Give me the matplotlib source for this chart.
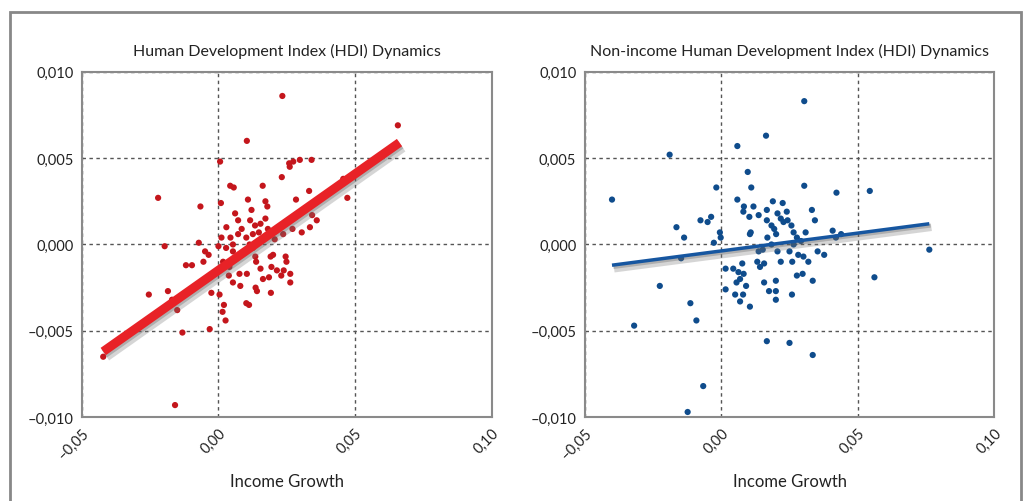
import numpy as np
import matplotlib.pyplot as plt
import matplotlib.patheffects as pe
from matplotlib.patches import Rectangle

# HDI dynamics vs income growth
hdi_x = [0.0234, 0.0657, 0.0104, 0.0006, 0.0259, 0.0274, 0.0298, 0.0341, 0.0261,
         0.0232, 0.0457, 0.0472, -0.0221, -0.0066, 0.0043, 0.0056, 0.0162, 0.0009,
         0.0108, 0.0284, 0.0332, 0.0172, 0.0179, 0.0121, 0.0061, 0.0343, 0.0360,
         0.0335, 0.0305, 0.0271, 0.0029, -0.0072, -0.0197, -0.0049, -0.0036, 0.0000,
         0.0028, 0.0053, -0.0119, -0.0097, -0.0055, 0.0017, 0.0040,
         0.0072, 0.0085, 0.0116, 0.0134, 0.0154, 0.0172, 0.0181, 0.0148, 0.0126,
         0.0102, 0.0044, 0.0072, 0.0175, 0.0206, 0.0237,
         0.0038, 0.0053, 0.0080, 0.0104, 0.0077, 0.0135, 0.0138, 0.0154, 0.0163,
         0.0136, 0.0141, 0.0191, 0.0200, 0.0194, 0.0214, 0.0185, 0.0192, 0.0230,
         0.0246, 0.0249, 0.0263, 0.0263, 0.0239, 0.0114, 0.0138, 0.0163, 0.0126,
         0.0102, 0.0011, 0.0053,
         0.0102, 0.0112, -0.0026, 0.0004, 0.0020, 0.0015, 0.0026, -0.0032,
         -0.0255, -0.0185, -0.0170, -0.0151, -0.0132, -0.0422, -0.0159]
hdi_y = [0.0086, 0.0069, 0.0060, 0.0048, 0.0047, 0.0048, 0.0049, 0.0049, 0.0045,
         0.0039, 0.0038, 0.0027, 0.0027, 0.0022, 0.0034, 0.0033, 0.0034, 0.0024,
         0.0026, 0.0026, 0.0031, 0.0025, 0.0022, 0.0020, 0.0018, 0.0017, 0.0014,
         0.0010, 0.0007, 0.0009, 0.0010, 0.0001, -0.0001, -0.0004, -0.0006, -0.0001,
         -0.0002, 0.0000, -0.0012, -0.0012, -0.0010, -0.0010, -0.0013,
         0.0014, 0.0009, 0.0014, 0.0011, 0.0012, 0.0015, 0.0009, 0.0007, 0.0006,
         0.0004, 0.0004, 0.0006, 0.0004, 0.0003, 0.0006,
         -0.0018, -0.0022, -0.0024, -0.0017, -0.0017, -0.0007, -0.0010, -0.0014, -0.0020,
         -0.0025, -0.0027, -0.0007, -0.0006, -0.0013, -0.0015, -0.0019, -0.0028, -0.0018,
         -0.0007, -0.0010, -0.0017, -0.0022, -0.0015, -0.0000, 0.0001, 0.0003, -0.0002,
         -0.0004, 0.0004, -0.0004,
         -0.0034, -0.0035, -0.0028, -0.0029, -0.0035, -0.0039, -0.0044, -0.0049,
         -0.0029, -0.0027, -0.0032, -0.0038, -0.0051, -0.0065, -0.0093]

# non-income HDI dynamics vs income growth
nonincome_x = [0.0304, 0.0164, 0.0059, -0.0189, 0.0097, 0.0304, -0.0018, 0.0110,
               0.0544, 0.0422, -0.0400, 0.0059, 0.0083, 0.0118, 0.0081, 0.0103, 0.0137,
               0.0189, 0.0225, 0.0167, 0.0206, 0.0240, 0.0332, 0.0343,
               -0.0037, -0.0076, -0.0050, -0.0164, -0.0136, -0.0005, -0.0002, -0.0027,
               0.0167, 0.0184, 0.0194, 0.0201, 0.0218, 0.0228, 0.0243, 0.0257, 0.0265,
               0.0277, 0.0169, 0.0184, 0.0152, 0.0137, 0.0132, 0.0142, 0.0157, 0.0206,
               0.0218, 0.0250, 0.0260, 0.0282, 0.0301, 0.0319, 0.0265, 0.0292, 0.0309,
               0.0353, 0.0377, 0.0408, 0.0420, 0.0439, 0.0108, 0.0105,
               0.0077, 0.0044, 0.0016, 0.0063, 0.0082, 0.0069, 0.0056, 0.0091, 0.0016,
               0.0051, 0.0069, 0.0080, 0.0105,
               0.0157, 0.0175, 0.0200, 0.0200, 0.0200, 0.0259, 0.0277, 0.0298, 0.0335,
               -0.0225, -0.0113, -0.0319, -0.0091, 0.0167, 0.0250, 0.0335, -0.0066,
               -0.0123, 0.0561, 0.0762, -0.0147]
nonincome_y = [0.0083, 0.0063, 0.0057, 0.0052, 0.0042, 0.0034, 0.0033, 0.0033,
               0.0031, 0.0030, 0.0026, 0.0026, 0.0022, 0.0022, 0.0019, 0.0016, 0.0017,
               0.0025, 0.0024, 0.0020, 0.0018, 0.0019, 0.0020, 0.0014,
               0.0016, 0.0014, 0.0013, 0.0010, 0.0004, 0.0007, 0.0004, 0.0001,
               0.0014, 0.0011, 0.0009, 0.0006, 0.0015, 0.0013, 0.0014, 0.0011, 0.0007,
               0.0004, 0.0004, -0.0000, -0.0003, -0.0004, -0.0010, -0.0013, -0.0011, -0.0004,
               -0.0010, -0.0004, -0.0010, -0.0006, -0.0007, -0.0010, -0.0000, 0.0002, 0.0007,
               -0.0004, -0.0006, 0.0008, 0.0004, 0.0006, 0.0007, 0.0006,
               -0.0011, -0.0014, -0.0014, -0.0016, -0.0017, -0.0020, -0.0022, -0.0024, -0.0026,
               -0.0029, -0.0033, -0.0029, -0.0036,
               -0.0022, -0.0027, -0.0021, -0.0027, -0.0032, -0.0029, -0.0018, -0.0017, -0.0021,
               -0.0024, -0.0034, -0.0047, -0.0044, -0.0056, -0.0057, -0.0064, -0.0082,
               -0.0097, -0.0019, -0.0003, -0.0008]

# fitted regression lines (end points)
hdi_fit_x = [-0.0422, 0.0663]
hdi_fit_y = [-0.0062, 0.0059]
nonincome_fit_x = [-0.0400, 0.0762]
nonincome_fit_y = [-0.0012, 0.0012]

xticks = [-0.05, 0.0, 0.05, 0.10]
xtick_labels = ['\u20130,05', '0,00', '0,05', '0,10']
yticks = [-0.010, -0.005, 0.0, 0.005, 0.010]
ytick_labels = ['\u20130,010', '\u20130,005', '0,000', '0,005', '0,010']

plt.rcParams['font.family'] = ['Lato', 'DejaVu Sans']

fig = plt.figure(figsize=(10.24, 5.02), dpi=100)
fig.patches.append(Rectangle((0.010, -0.01), 0.987, 0.984, transform=fig.transFigure,
                             fill=False, edgecolor='#888888', linewidth=2))

panels = [
    (0.080, 'Human Development Index (HDI) Dynamics', hdi_x, hdi_y,
     hdi_fit_x, hdi_fit_y, '#c4161c', '#e82227', 6.5),
    (0.571, 'Non-income Human Development Index (HDI) Dynamics', nonincome_x, nonincome_y,
     nonincome_fit_x, nonincome_fit_y, '#0f4c8c', '#1656a0', 2.5),
]

for left, title, x, y, fx, fy, dot_color, line_color, lw in panels:
    ax = fig.add_axes([left, 0.167, 0.400, 0.688])
    ax.scatter(x, y, s=20, color=dot_color, edgecolor='none', zorder=3)
    shadow = [pe.SimpleLineShadow(offset=(1.5, -2.5), shadow_color='#777777', alpha=0.3,
                                  linewidth=lw + 3),
              pe.SimpleLineShadow(offset=(1, -1.5), shadow_color='#555555', alpha=0.3),
              pe.Normal()]
    ax.plot(fx, fy, color=line_color, linewidth=lw, solid_capstyle='butt', zorder=4,
            path_effects=shadow)
    ax.set_xlim(-0.05, 0.10)
    ax.set_ylim(-0.010, 0.010)
    ax.set_xticks(xticks)
    ax.set_xticklabels(xtick_labels, rotation=45, ha='right', va='top',
                       rotation_mode='anchor', fontsize=10.5)
    ax.set_yticks(yticks)
    ax.set_yticklabels(ytick_labels, fontsize=10.5)
    ax.tick_params(length=0, pad=6, colors='#222222')
    ax.grid(True, linestyle=(0, (2.5, 2.5)), color='#555555', linewidth=1)
    ax.set_axisbelow(True)
    for s in ax.spines.values():
        s.set_color('#8a8a8a')
        s.set_linewidth(1.5)
    ax.set_title(title, fontsize=11.5, pad=12, color='#222222')
    ax.set_xlabel('Income Growth', fontsize=12, labelpad=8, color='#222222')

fig.savefig('out.png', dpi=100)
